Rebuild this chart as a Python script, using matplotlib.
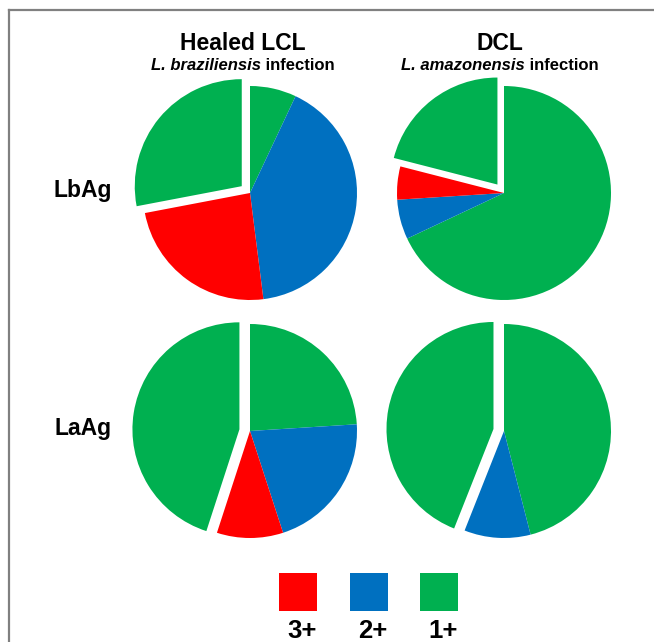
import matplotlib
matplotlib.use("Agg")
import matplotlib.pyplot as plt
from matplotlib.lines import Line2D
from matplotlib.patches import Rectangle

plt.rcParams["font.family"] = ["Liberation Sans", "DejaVu Sans"]

# share of cells (%) per score, clockwise from 12 o'clock: 1+, 2+, 3+, then the exploded slice
grade_labels = ["3+", "2+", "1+"]
lcl_lbag = [7, 41, 24, 28]
dcl_lbag = [68, 6, 5, 21]
lcl_laag = [24, 21, 10, 45]
dcl_laag = [46, 10, 0, 44]

col_titles = ["Healed LCL", "DCL"]
col_species = ["L. braziliensis", "L. amazonensis"]
row_titles = ["LbAg", "LaAg"]

RED, BLUE, GREEN = "#FF0000", "#0070C0", "#00B050"
slice_colors = [GREEN, BLUE, RED, GREEN]
legend_colors = [RED, BLUE, GREEN]

W, H = 654, 642
fig = plt.figure(figsize=(W / 100, H / 100), dpi=100)
ax = fig.add_axes([0, 0, 1, 1])

# pixel layout (y measured from the top of the image)
col_x = [250, 504]
row_y = [193, 431]
radius = 107
gap = 0.1 * radius

pies = [[lcl_lbag, dcl_lbag], [lcl_laag, dcl_laag]]
for r, row in enumerate(pies):
    for c, values in enumerate(row):
        ax.pie(values, colors=slice_colors, startangle=90, counterclock=False,
               radius=radius, center=(col_x[c], H - row_y[r]),
               explode=[0, 0, 0, gap], wedgeprops=dict(linewidth=0))

ax.set_xlim(0, W)
ax.set_ylim(0, H)
ax.set_aspect("equal")
ax.axis("off")

# column headers
head_x = [243, 500]
for c, title in enumerate(col_titles):
    ax.text(head_x[c], H - 43, title, ha="center", va="center",
            fontsize=16.5, fontweight="bold")

renderer = fig.canvas.get_renderer()
for c, sp in enumerate(col_species):
    t1 = ax.text(0, H - 66, sp, ha="left", va="center", fontsize=12,
                 fontweight="bold", fontstyle="italic")
    t2 = ax.text(0, H - 66, " infection", ha="left", va="center", fontsize=12,
                 fontweight="bold")
    w1 = t1.get_window_extent(renderer).width
    w2 = t2.get_window_extent(renderer).width
    x0 = head_x[c] - (w1 + w2) / 2
    t1.set_x(x0)
    t2.set_x(x0 + w1)

# row labels
for r, title in enumerate(row_titles):
    ax.text(83, H - row_y[r] + 3, title, ha="center", va="center",
            fontsize=16.5, fontweight="bold")

# legend
sq_x = [279, 350, 420]
sq = 38
for i, lab in enumerate(grade_labels):
    ax.add_patch(Rectangle((sq_x[i], H - 611), sq, sq, facecolor=legend_colors[i],
                           edgecolor="none"))
    ax.text(sq_x[i] + sq / 2 + 4, H - 631, lab, ha="center", va="center",
            fontsize=18.5, fontweight="bold")

# frame lines at top and left
fig.add_artist(Line2D([9 / W, 1], [1 - 10 / H, 1 - 10 / H], color="#808080", lw=1.6))
fig.add_artist(Line2D([9 / W, 9 / W], [0, 1 - 10 / H], color="#808080", lw=1.6))

fig.savefig("out.png", dpi=100)
